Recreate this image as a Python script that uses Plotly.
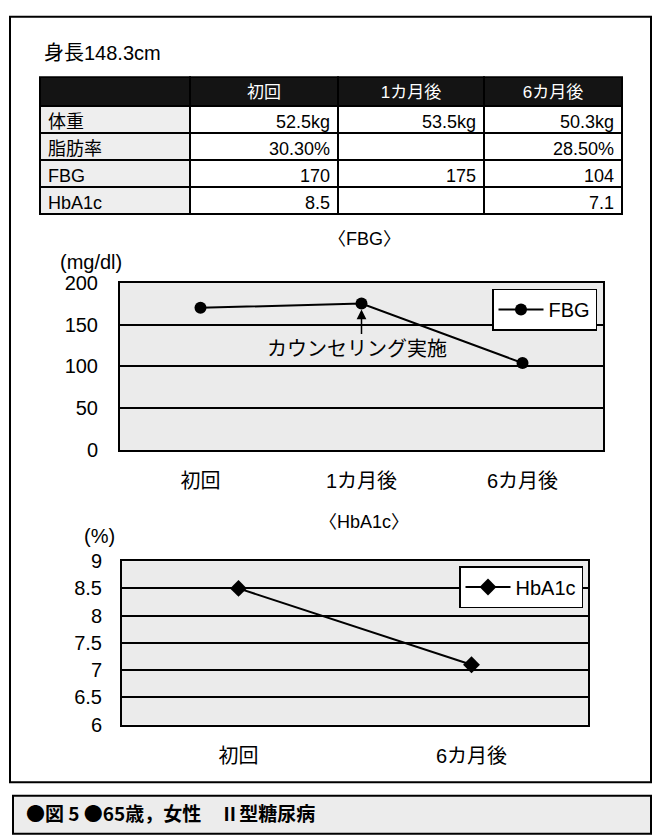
import plotly.graph_objects as go

# ---------------- data ----------------
categories = ["初回", "1カ月後", "6カ月後"]
row_labels = ["体重", "脂肪率", "FBG", "HbA1c"]
weight = ["52.5kg", "53.5kg", "50.3kg"]
fat_rate = ["30.30%", "", "28.50%"]
fbg = [170, 175, 104]
hba1c = [8.5, None, 7.1]
height_text = "身長148.3cm"
fbg_ticks = [0, 50, 100, 150, 200]
hba1c_ticks = [6, 6.5, 7, 7.5, 8, 8.5, 9]
caption = "●図 5 ●65歳，女性　Ⅱ型糖尿病"
note = "カウンセリング実施"

W, H = 656, 837
FONT = "Liberation Sans, Arial, Noto Sans CJK JP, sans-serif"
CJK = "Noto Sans CJK JP, sans-serif"


def fx(px):
    return px / W


def fy(py):
    return 1 - py / H


def fmt(v):
    return "" if v is None else str(v)


fig = go.Figure()

# ---------------- table ----------------
cols = [row_labels]
for i in range(3):
    cols.append([weight[i], fat_rate[i], fmt(fbg[i]), fmt(hba1c[i])])

fig.add_trace(go.Table(
    domain=dict(x=[fx(40), fx(622)], y=[fy(230), fy(68)]),
    columnwidth=[150, 148, 146, 138],
    header=dict(values=[""] + categories, fill_color="#141414",
                line=dict(color="black", width=1.5),
                align="center", height=29,
                font=dict(family=FONT, size=17, color="white")),
    cells=dict(values=cols,
               fill_color=[["#eeeeee"] * 4, ["white"] * 4, ["white"] * 4, ["white"] * 4],
               line=dict(color="black", width=1.5),
               align=["left", "right", "right", "right"], height=27,
               font=dict(family=FONT, size=18, color="black")),
))

# ---------------- FBG chart ----------------
fig.add_trace(go.Scatter(
    x=categories, y=fbg, mode="lines+markers", name="FBG",
    line=dict(color="black", width=2),
    marker=dict(symbol="circle", size=12, color="black"),
    xaxis="x", yaxis="y", legend="legend",
))

# ---------------- HbA1c chart ----------------
h_cats = [c for c, v in zip(categories, hba1c) if v is not None]
h_vals = [v for v in hba1c if v is not None]
fig.add_trace(go.Scatter(
    x=h_cats, y=h_vals, mode="lines+markers", name="HbA1c",
    line=dict(color="black", width=2),
    marker=dict(symbol="diamond", size=13, color="black"),
    xaxis="x2", yaxis="y2", legend="legend2",
))

axis_common = dict(showline=True, linecolor="black", linewidth=2, mirror=True,
                   zeroline=False, ticks="",
                   tickfont=dict(family=FONT, size=20, color="black"))

fig.update_layout(
    width=W, height=H, autosize=False,
    margin=dict(l=0, r=0, t=0, b=0),
    paper_bgcolor="white", plot_bgcolor="#ebebeb",
    font=dict(family=FONT, color="black"),
    xaxis=dict(domain=[fx(120), fx(603)], anchor="y", type="category",
               categoryorder="array", categoryarray=categories,
               range=[-0.5, 2.5], showgrid=False, ticklabelstandoff=12,
               **axis_common),
    yaxis=dict(domain=[fy(451), fy(279)], anchor="x", range=[0, 200],
               tickvals=fbg_ticks, showgrid=True, gridcolor="black",
               gridwidth=1.5, ticklabelstandoff=16, **axis_common),
    xaxis2=dict(domain=[fx(122), fx(588)], anchor="y2", type="category",
                categoryorder="array", categoryarray=h_cats,
                range=[-0.5, 1.5], showgrid=False, ticklabelstandoff=12,
                **axis_common),
    yaxis2=dict(domain=[fy(733), fy(565)], anchor="x2", range=[6, 9],
                tickvals=hba1c_ticks, showgrid=True, gridcolor="black",
                gridwidth=1.5, ticklabelstandoff=14, **axis_common),
    legend=dict(x=fx(597), y=fy(285), xanchor="right", yanchor="top",
                bgcolor="white", bordercolor="black", borderwidth=1.5,
                font=dict(family=FONT, size=20), itemwidth=45,
                tracegroupgap=0),
    legend2=dict(x=fx(583), y=fy(570), xanchor="right", yanchor="top",
                 bgcolor="white", bordercolor="black", borderwidth=1.5,
                 font=dict(family=FONT, size=20), itemwidth=45,
                 tracegroupgap=0),
    showlegend=True,
)

# ---------------- frames ----------------
shapes = [
    dict(type="rect", xref="paper", yref="paper", x0=fx(10), x1=fx(651),
         y0=fy(792), y1=fy(6), line=dict(color="black", width=2),
         fillcolor="rgba(0,0,0,0)", layer="below"),
    dict(type="rect", xref="paper", yref="paper", x0=fx(13), x1=fx(651),
         y0=fy(845), y1=fy(806), line=dict(color="black", width=2),
         fillcolor="#ececec", layer="below"),
]
fig.update_layout(shapes=shapes)

# ---------------- texts ----------------
ann = [
    dict(text=height_text, x=fx(42), y=fy(43), xanchor="left", yanchor="middle",
         font=dict(size=20)),
    dict(text="〈FBG〉", x=fx(364), y=fy(234), xanchor="center", yanchor="middle",
         font=dict(size=18)),
    dict(text="(mg/dl)", x=fx(58), y=fy(258), xanchor="left", yanchor="middle",
         font=dict(size=20)),
    dict(text="〈HbA1c〉", x=fx(364), y=fy(525), xanchor="center", yanchor="middle",
         font=dict(size=18)),
    dict(text="(%)", x=fx(82), y=fy(539), xanchor="left", yanchor="middle",
         font=dict(size=20)),
    dict(text="<b>" + caption + "</b>", x=fx(24), y=fy(823), xanchor="left",
         yanchor="middle", font=dict(size=19, family=CJK)),
    dict(text=note, x=fx(357), y=fy(347), xanchor="center", yanchor="middle",
         font=dict(size=20)),
]
for a in ann:
    a.update(xref="paper", yref="paper", showarrow=False)
# arrow pointing to the 1カ月後 FBG point
ann.append(dict(text="", x=categories[1], y=fbg[1], xref="x", yref="y",
                showarrow=True, ax=0, ay=32, arrowhead=2, arrowsize=1.3,
                arrowwidth=1.5, arrowcolor="black", standoff=6))
fig.update_layout(annotations=ann)

fig.write_html("out.html")
